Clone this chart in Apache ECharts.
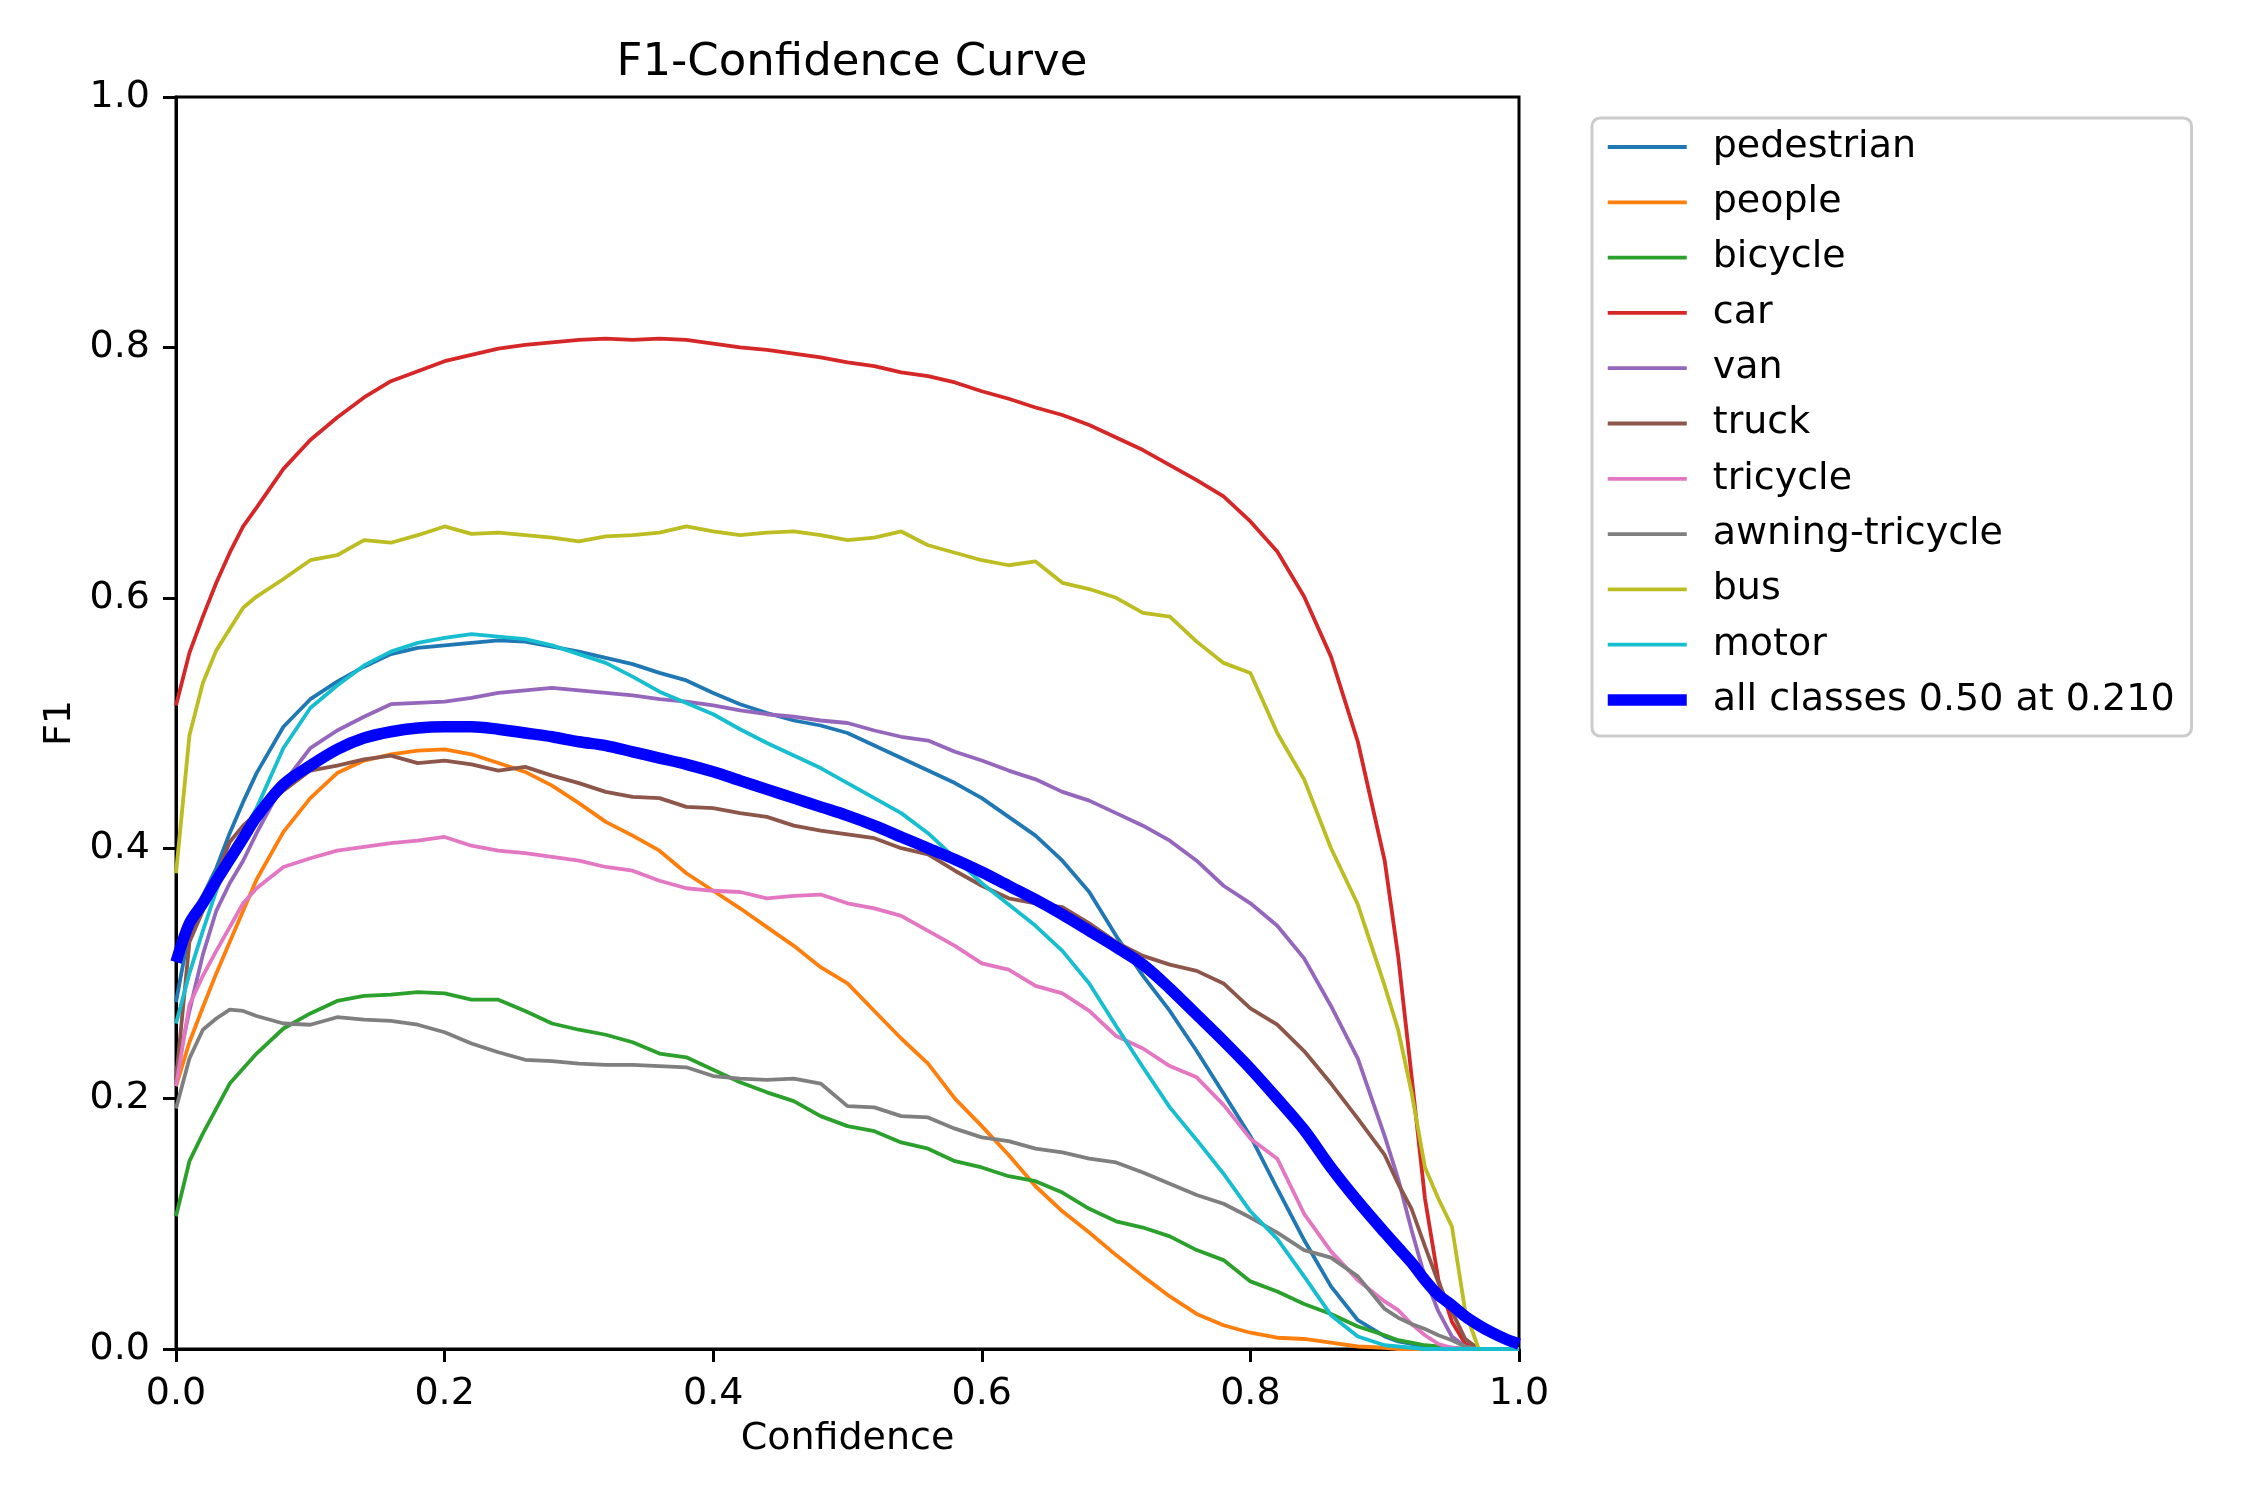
<!DOCTYPE html>
<html>
<head>
<meta charset="utf-8">
<title>F1-Confidence Curve</title>
<script src="https://cdn.jsdelivr.net/npm/echarts@6/dist/echarts.min.js"></script>
<style>
  html, body { margin: 0; padding: 0; background: #fff; }
  #f1Chart { width: 2250px; height: 1500px; }
</style>
</head>
<body>
<div id="f1Chart"></div>
<script>
// 置信度采样点
var conf = [0, 0.01, 0.02, 0.03, 0.04, 0.05, 0.06,
	0.08, 0.10, 0.12, 0.14, 0.16, 0.18, 0.20, 0.22, 0.24, 0.26, 0.28, 0.30,
	0.32, 0.34, 0.36, 0.38, 0.40, 0.42, 0.44, 0.46, 0.48, 0.50,
	0.52, 0.54, 0.56, 0.58, 0.60, 0.62, 0.64, 0.66, 0.68, 0.70,
	0.72, 0.74, 0.76, 0.78, 0.80, 0.82, 0.84, 0.86, 0.88, 0.90,
	0.91, 0.92, 0.93, 0.94, 0.95, 0.96, 0.97, 0.98, 0.99, 1.0];

var classNames = ['pedestrian', 'people', 'bicycle', 'car', 'van', 'truck', 'tricycle', 'awning-tricycle', 'bus', 'motor'];
var allName = 'all classes 0.50 at 0.210';

var pedestrian = [0.277, 0.335, 0.362, 0.384, 0.412, 0.437, 0.460,
	0.497, 0.519, 0.533, 0.545, 0.555, 0.560, 0.562, 0.564, 0.566, 0.565, 0.561, 0.557,
	0.552, 0.547, 0.540, 0.534, 0.524, 0.515, 0.508, 0.502, 0.498, 0.492,
	0.482, 0.472, 0.462, 0.452, 0.440, 0.425, 0.410, 0.390, 0.365, 0.330,
	0.298, 0.270, 0.238, 0.204, 0.170, 0.128, 0.087, 0.050, 0.023, 0.010,
	0.006, 0.004, 0.002, 0.001, 0, 0, 0, 0, 0, 0];
var people = [0.210, 0.245, 0.273, 0.300, 0.325, 0.350, 0.375,
	0.413, 0.440, 0.460, 0.470, 0.475, 0.478, 0.479, 0.475, 0.468, 0.461, 0.450, 0.436,
	0.421, 0.410, 0.398, 0.380, 0.366, 0.352, 0.337, 0.322, 0.305, 0.292,
	0.270, 0.248, 0.228, 0.200, 0.178, 0.155, 0.130, 0.110, 0.093, 0.075,
	0.058, 0.042, 0.028, 0.019, 0.013, 0.009, 0.008, 0.005, 0.002, 0.001,
	0, 0, 0, 0, 0, 0, 0, 0, 0, 0];
var bicycle = [0.106, 0.150, 0.172, 0.192, 0.212, 0.224, 0.236,
	0.256, 0.268, 0.278, 0.282, 0.283, 0.285, 0.284, 0.279, 0.279, 0.270, 0.260, 0.255,
	0.251, 0.245, 0.236, 0.233, 0.223, 0.213, 0.205, 0.198, 0.186, 0.178,
	0.174, 0.165, 0.160, 0.150, 0.145, 0.138, 0.134, 0.125, 0.112, 0.102,
	0.097, 0.090, 0.079, 0.071, 0.054, 0.046, 0.036, 0.028, 0.018, 0.011,
	0.007, 0.005, 0.003, 0.002, 0.001, 0, 0, 0, 0, 0];
var car = [0.514, 0.556, 0.585, 0.612, 0.636, 0.657, 0.672,
	0.703, 0.726, 0.744, 0.760, 0.773, 0.781, 0.789, 0.794, 0.799, 0.802, 0.804, 0.806,
	0.807, 0.806, 0.807, 0.806, 0.803, 0.800, 0.798, 0.795, 0.792, 0.788,
	0.785, 0.780, 0.777, 0.772, 0.765, 0.759, 0.752, 0.746, 0.738, 0.728,
	0.718, 0.706, 0.694, 0.681, 0.661, 0.637, 0.601, 0.553, 0.485, 0.390,
	0.314, 0.218, 0.120, 0.055, 0.022, 0.004, 0, 0, 0, 0];
var van = [0.220, 0.270, 0.315, 0.350, 0.372, 0.390, 0.412,
	0.452, 0.480, 0.494, 0.505, 0.515, 0.516, 0.517, 0.520, 0.524, 0.526, 0.528, 0.526,
	0.524, 0.522, 0.519, 0.517, 0.514, 0.510, 0.507, 0.505, 0.502, 0.500,
	0.494, 0.489, 0.486, 0.477, 0.470, 0.462, 0.455, 0.445, 0.438, 0.428,
	0.418, 0.406, 0.390, 0.370, 0.356, 0.338, 0.312, 0.274, 0.232, 0.170,
	0.136, 0.095, 0.057, 0.030, 0.010, 0.002, 0, 0, 0, 0];
var truck = [0.215, 0.325, 0.350, 0.378, 0.405, 0.418, 0.428,
	0.446, 0.462, 0.466, 0.471, 0.474, 0.468, 0.470, 0.467, 0.462, 0.465, 0.458, 0.452,
	0.445, 0.441, 0.440, 0.433, 0.432, 0.428, 0.425, 0.418, 0.414, 0.411,
	0.408, 0.400, 0.395, 0.382, 0.370, 0.360, 0.356, 0.353, 0.340, 0.325,
	0.314, 0.307, 0.302, 0.292, 0.272, 0.259, 0.238, 0.212, 0.184, 0.155,
	0.132, 0.112, 0.082, 0.053, 0.030, 0.008, 0, 0, 0, 0];
var tricycle = [0.210, 0.275, 0.298, 0.318, 0.337, 0.356, 0.368,
	0.385, 0.392, 0.398, 0.401, 0.404, 0.406, 0.409, 0.402, 0.398, 0.396, 0.393, 0.390,
	0.385, 0.382, 0.374, 0.368, 0.366, 0.365, 0.360, 0.362, 0.363, 0.356,
	0.352, 0.346, 0.334, 0.322, 0.308, 0.303, 0.290, 0.284, 0.270, 0.250,
	0.240, 0.226, 0.217, 0.195, 0.168, 0.152, 0.108, 0.078, 0.055, 0.038,
	0.031, 0.020, 0.011, 0.004, 0.001, 0, 0, 0, 0, 0];
var awningTricycle = [0.192, 0.232, 0.255, 0.264, 0.271, 0.270, 0.266,
	0.260, 0.259, 0.265, 0.263, 0.262, 0.259, 0.253, 0.244, 0.237, 0.231, 0.230, 0.228,
	0.227, 0.227, 0.226, 0.225, 0.218, 0.216, 0.215, 0.216, 0.212, 0.194,
	0.193, 0.186, 0.185, 0.176, 0.169, 0.166, 0.160, 0.157, 0.152, 0.149,
	0.141, 0.132, 0.123, 0.116, 0.105, 0.093, 0.079, 0.073, 0.058, 0.032,
	0.025, 0.020, 0.016, 0.011, 0.007, 0.002, 0, 0, 0, 0];
var bus = [0.380, 0.490, 0.532, 0.558, 0.575, 0.592, 0.601,
	0.615, 0.630, 0.634, 0.646, 0.644, 0.650, 0.657, 0.651, 0.652, 0.650, 0.648, 0.645,
	0.649, 0.650, 0.652, 0.657, 0.653, 0.650, 0.652, 0.653, 0.650, 0.646,
	0.648, 0.653, 0.642, 0.636, 0.630, 0.626, 0.629, 0.612, 0.607, 0.600,
	0.588, 0.585, 0.565, 0.548, 0.540, 0.492, 0.455, 0.400, 0.355, 0.290,
	0.255, 0.205, 0.145, 0.120, 0.098, 0.030, 0, 0, 0, 0];
var motor = [0.260, 0.300, 0.334, 0.366, 0.395, 0.413, 0.432,
	0.480, 0.512, 0.530, 0.546, 0.557, 0.564, 0.568, 0.571, 0.569, 0.567, 0.562, 0.555,
	0.548, 0.537, 0.525, 0.516, 0.507, 0.495, 0.484, 0.474, 0.464, 0.452,
	0.440, 0.428, 0.412, 0.392, 0.372, 0.355, 0.338, 0.318, 0.292, 0.258,
	0.225, 0.193, 0.167, 0.140, 0.110, 0.088, 0.058, 0.027, 0.010, 0.003,
	0.002, 0.001, 0, 0, 0, 0, 0, 0, 0, 0];
var allClasses = [0.309, 0.340, 0.356, 0.374, 0.391, 0.408, 0.425,
	0.451, 0.466, 0.479, 0.488, 0.493, 0.496, 0.497, 0.497, 0.495, 0.492, 0.489, 0.485,
	0.482, 0.477, 0.472, 0.467, 0.461, 0.454, 0.447, 0.440, 0.433, 0.426,
	0.418, 0.409, 0.400, 0.391, 0.381, 0.370, 0.359, 0.347, 0.334, 0.321,
	0.307, 0.288, 0.267, 0.246, 0.224, 0.200, 0.175, 0.145, 0.118, 0.093,
	0.081, 0.069, 0.055, 0.043, 0.035, 0.026, 0.019, 0.013, 0.008, 0.004];

var classValues = [pedestrian, people, bicycle, car, van, truck, tricycle, awningTricycle, bus, motor];
var classColors = ['#1f77b4', '#ff7f0e', '#2ca02c', '#d62728', '#9467bd', '#8c564b', '#e377c2', '#7f7f7f', '#bcbd22', '#17becf'];

var fontName = 'DejaVu Sans';
var thinWidth = 3.8;
var thickWidth = 11.5;

function pairs(values) {
	return conf.map(function (c, i) { return [c, values[i]]; });
}

var chartF1 = {
	init: function () {
		var myChart = echarts.init(document.getElementById('f1Chart'), null, { renderer: 'canvas' });

		var series = classNames.map(function (name, k) {
			return {
				name: name,
				type: 'line',
				data: pairs(classValues[k]),
				symbol: 'none',
				color: classColors[k],
				lineStyle: { width: thinWidth, color: classColors[k] },
				z: 2
			};
		});
		// 全部类别的平均曲线
		series.push({
			name: allName,
			type: 'line',
			data: pairs(allClasses),
			symbol: 'none',
			smooth: 0.3,
			color: '#0000ff',
			lineStyle: { width: thickWidth, color: '#0000ff' },
			z: 3
		});

		// 图例：只画线段，不画圆点
		var legendData = classNames.map(function (name, k) {
			return { name: name, itemStyle: { opacity: 0 }, lineStyle: { width: thinWidth, color: classColors[k] } };
		});
		legendData.push({ name: allName, itemStyle: { opacity: 0 }, lineStyle: { width: thickWidth, color: '#0000ff' } });

		var axisCommon = {
			type: 'value',
			min: 0,
			max: 1,
			interval: 0.2,
			nameLocation: 'middle',
			nameTextStyle: { fontFamily: fontName, fontSize: 38, color: '#000' },
			axisLine: { show: true, onZero: false, lineStyle: { color: '#000', width: 3 } },
			axisTick: { show: true, inside: false, length: 13, lineStyle: { color: '#000', width: 3 } },
			axisLabel: {
				fontFamily: fontName, fontSize: 38, color: '#000', margin: 26,
				formatter: function (v) { return v.toFixed(1); }
			},
			splitLine: { show: false }
		};

		var option = {
			animation: false,
			backgroundColor: '#fff',
			title: {
				text: 'F1-Confidence Curve',
				left: 847,
				textAlign: 'center',
				top: 36,
				textStyle: { fontFamily: fontName, fontSize: 45, fontWeight: 'normal', color: '#000' }
			},
			legend: {
				orient: 'vertical',
				left: 1592,
				top: 118,
				data: legendData,
				itemWidth: 79,
				itemHeight: 14,
				itemGap: 17.3,
				padding: [10, 17, 17, 10],
				borderColor: '#cccccc',
				borderWidth: 3,
				borderRadius: 8,
				backgroundColor: '#fff',
				textStyle: { fontFamily: fontName, fontSize: 38, color: '#000', lineHeight: 38, padding: [0, 0, 0, 21] }
			},
			grid: {
				left: 176,
				top: 97,
				width: 1343,
				height: 1252,
				show: true,
				borderColor: '#000',
				borderWidth: 3,
				containLabel: false
			},
			xAxis: Object.assign({}, axisCommon, { name: 'Confidence', nameGap: 71 }),
			yAxis: Object.assign({}, axisCommon, { name: 'F1', nameGap: 97 }),
			series: series
		};

		myChart.setOption(option);
	}
};

chartF1.init();
</script>
</body>
</html>
